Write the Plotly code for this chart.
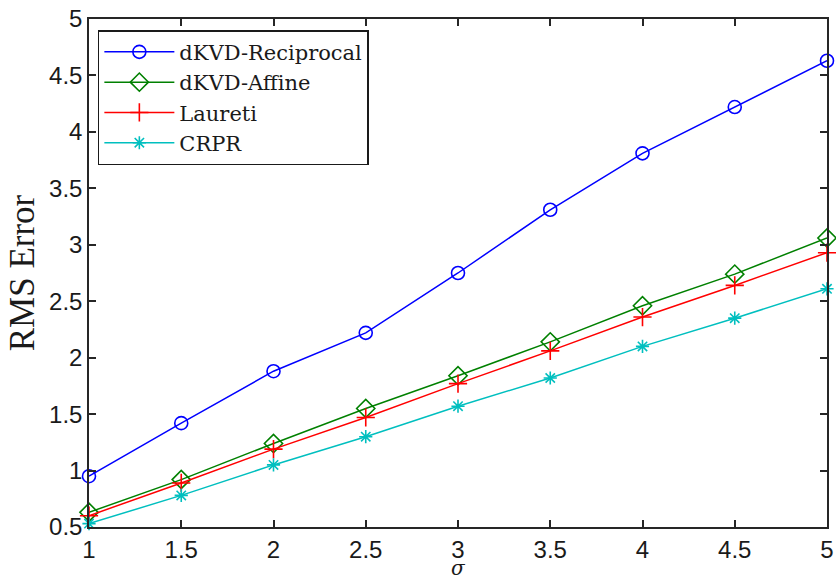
import plotly.graph_objects as go

sigma = [1, 1.5, 2, 2.5, 3, 3.5, 4, 4.5, 5]
reciprocal = [0.95, 1.42, 1.88, 2.22, 2.75, 3.31, 3.81, 4.22, 4.63]
affine = [0.63, 0.92, 1.24, 1.55, 1.84, 2.14, 2.46, 2.74, 3.06]
laureti = [0.60, 0.89, 1.19, 1.47, 1.77, 2.06, 2.36, 2.64, 2.93]
crpr = [0.53, 0.78, 1.05, 1.30, 1.57, 1.82, 2.10, 2.35, 2.61]

x_ticks = [1, 1.5, 2, 2.5, 3, 3.5, 4, 4.5, 5]
y_ticks = [0.5, 1, 1.5, 2, 2.5, 3, 3.5, 4, 4.5, 5]

series = [
    ("dKVD-Reciprocal", reciprocal, "#0000FF", "circle-open", 13),
    ("dKVD-Affine", affine, "#008000", "diamond-open", 14),
    ("Laureti", laureti, "#FF0000", "cross-thin-open", 13),
    ("CRPR", crpr, "#00BFBF", "asterisk-open", 11),
]

fig = go.Figure()
for name, ys, color, sym, size in series:
    fig.add_trace(go.Scatter(
        x=sigma, y=ys, name=name, mode="lines+markers",
        line=dict(color=color, width=1.5),
        marker=dict(symbol=sym, size=size, color=color, line=dict(color=color, width=1.6)),
        cliponaxis=False,
    ))

axis_common = dict(
    showline=True, linecolor="#262626", linewidth=1.5, mirror="ticks",
    ticks="inside", ticklen=7, tickwidth=1.5, tickcolor="#262626",
    showgrid=False, zeroline=False, automargin=False,
    tickfont=dict(family="Liberation Sans, Arial, sans-serif", size=24, color="#1a1a1a"),
)

fig.update_layout(
    width=836, height=581,
    margin=dict(l=89, r=9, t=19, b=54, autoexpand=False),
    paper_bgcolor="white", plot_bgcolor="white",
    xaxis=dict(range=[1, 5], tickvals=x_ticks, ticktext=[f"{v:g}" for v in x_ticks],
               **axis_common),
    yaxis=dict(range=[0.5, 5], tickvals=y_ticks, ticktext=[f"{v:g}" for v in y_ticks],
               title=dict(text="RMS Error", font=dict(family="Liberation Serif, serif", size=35, color="#1a1a1a"), standoff=4),
               **axis_common),
    legend=dict(
        x=0.012, y=0.978, xanchor="left", yanchor="top",
        bgcolor="white", bordercolor="#1a1a1a", borderwidth=1.5,
        font=dict(family="DejaVu Serif, serif", size=21, color="#1a1a1a"),
        itemwidth=70, tracegroupgap=0,
    ),
    showlegend=True,
    annotations=[dict(
        text="<i>σ</i>", xref="paper", yref="paper", x=0.5, y=0,
        xanchor="center", yanchor="middle", yshift=-41, showarrow=False,
        font=dict(family="DejaVu Serif, serif", size=20, color="#1a1a1a"),
    )],
)

fig.write_html(
    "out.html",
    config={"displayModeBar": False},
    post_script="document.body.style.margin='0';document.body.style.overflow='hidden';",
)
